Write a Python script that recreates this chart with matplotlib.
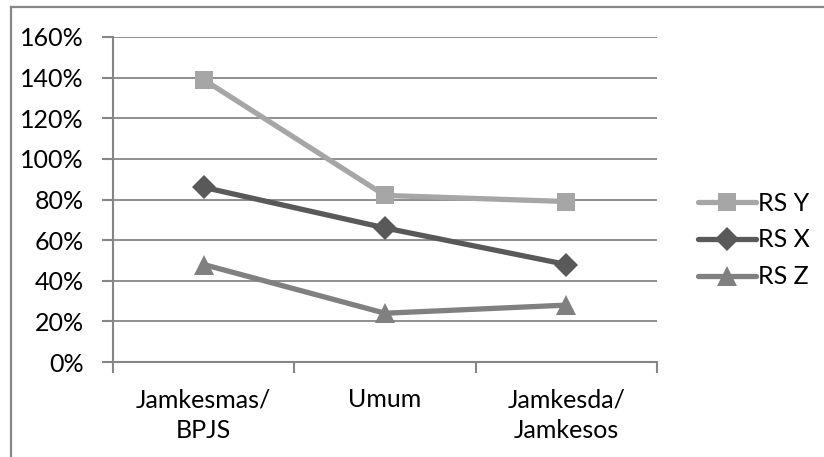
import matplotlib
matplotlib.use("Agg")
import matplotlib.pyplot as plt
from matplotlib.lines import Line2D
from matplotlib.ticker import FuncFormatter, FixedLocator

plt.rcParams['font.family'] = ['Lato', 'DejaVu Sans']

categories = ["Jamkesmas/\nBPJS", "Umum", "Jamkesda/\nJamkesos"]
series_names = ["RS Y", "RS X", "RS Z"]
rs_y = [139, 82, 79]
rs_x = [86, 66, 48]
rs_z = [48, 24, 28]
y_ticks = [0, 20, 40, 60, 80, 100, 120, 140, 160]

colors = ["#A6A6A6", "#595959", "#808080"]
markers = ["s", "D", "^"]
msizes = [13, 12, 14]

fig = plt.figure(figsize=(8.24, 4.57), dpi=100)
ax = fig.add_axes([113/824, 1-362/457, (657-113)/824, (362-37)/457])

x = list(range(len(categories)))
handles = []
for vals, name, c, m, ms in zip([rs_y, rs_x, rs_z], series_names, colors, markers, msizes):
    ln, = ax.plot(x, vals, color=c, lw=3.8, marker=m, markersize=ms,
                  markeredgewidth=0, label=name, zorder=3, solid_capstyle='round')
    handles.append(ln)

ax.set_xlim(-0.5, len(categories)-0.5)
ax.set_ylim(0, 160)
ax.set_yticks(y_ticks)
ax.yaxis.set_major_formatter(FuncFormatter(lambda v, p: f"{int(v)}%"))
ax.grid(axis='y', color='#868686', lw=1.3, zorder=1)
ax.set_axisbelow(True)

ax.set_xticks(x)
ax.set_xticklabels(categories, fontsize=18, linespacing=1.4)
ax.xaxis.set_minor_locator(FixedLocator([-0.5, 0.5, 1.5, 2.5]))
ax.tick_params(axis='x', which='major', length=0, pad=19)
ax.tick_params(axis='x', which='minor', length=8, width=1.5, color='#868686', direction='out')
ax.tick_params(axis='y', length=8, width=1.5, color='#868686', labelsize=18, pad=13)

for s in ['top', 'right']:
    ax.spines[s].set_visible(False)
for s in ['left', 'bottom']:
    ax.spines[s].set_color('#868686')
    ax.spines[s].set_linewidth(1.5)

leg = fig.legend(handles=handles, loc='center left', bbox_to_anchor=(688/824, 1-240/457),
                 frameon=False, fontsize=18, handlelength=2.3, handletextpad=0.1,
                 labelspacing=0.55, borderaxespad=0)

# outer chart frame (top and left edges visible)
fig.add_artist(Line2D([10.5/824, 1.0], [1-6.5/457, 1-6.5/457], color='#868686', lw=1.6,
                      transform=fig.transFigure))
fig.add_artist(Line2D([10.5/824, 10.5/824], [0, 1-6.5/457], color='#868686', lw=1.6,
                      transform=fig.transFigure))

fig.savefig("out.png", dpi=100)
